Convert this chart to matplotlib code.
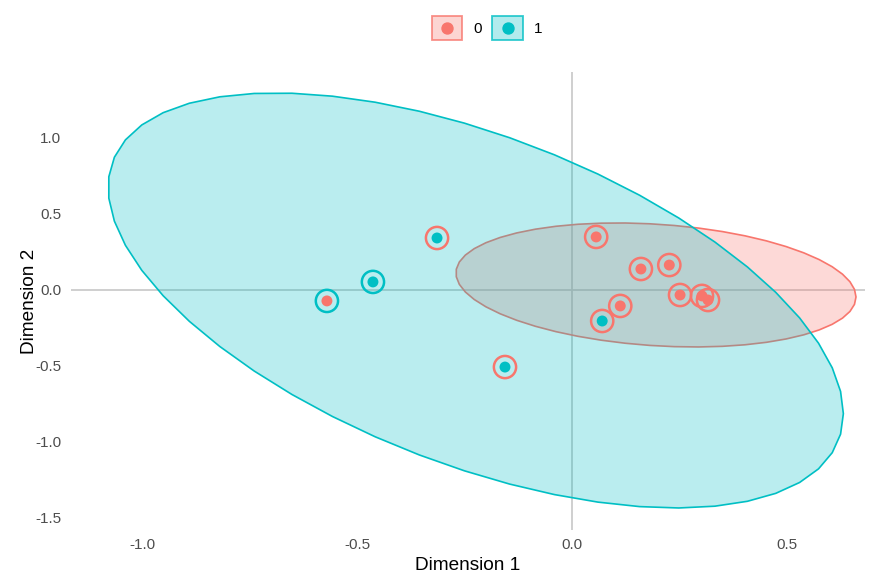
import numpy as np
import matplotlib
matplotlib.use('Agg')
import matplotlib.pyplot as plt
from matplotlib.patches import Polygon, Rectangle
from matplotlib.lines import Line2D
from matplotlib.legend_handler import HandlerBase
from matplotlib.colors import to_rgba

plt.rcParams['font.family'] = ['Liberation Sans', 'DejaVu Sans']

red = '#F8766D'
teal = '#00BFC4'
colours = {0: red, 1: teal}

# points: position, inner dot group, outer ring group
dim1 = [-0.570, -0.463, -0.314, -0.156, 0.056, 0.160, 0.226, 0.251, 0.302, 0.316, 0.112, 0.070]
dim2 = [-0.072, 0.053, 0.342, -0.507, 0.349, 0.138, 0.164, -0.033, -0.039, -0.066, -0.105, -0.204]
inner = [0, 1, 1, 1, 0, 0, 0, 0, 0, 0, 0, 1]
outer = [1, 1, 0, 0, 0, 0, 0, 0, 0, 0, 0, 0]

# ellipses: centre and shape matrix (xx, yy, xy) per group
ell_groups = [0, 1]
ell_centre = {0: (0.195, 0.033), 1: (-0.224, -0.069)}
ell_shape = {0: (0.2163, 0.1664, -0.0367), 1: (0.7305, 1.8636, -0.6365)}

xticks = [-1.0, -0.5, 0.0, 0.5]
yticks = [-1.5, -1.0, -0.5, 0.0, 0.5, 1.0]


class DotKey(HandlerBase):
    # ggplot style key: tinted square with a dot in the middle
    def create_artists(self, legend, orig_handle, xdescent, ydescent,
                       width, height, fontsize, trans):
        col = orig_handle.get_color()
        box = Rectangle((-xdescent, -ydescent), width, height,
                        facecolor=to_rgba(col, 0.3), edgecolor=to_rgba(col, 0.8),
                        lw=1.3, transform=trans)
        dot = Line2D([-xdescent + width / 2], [-ydescent + height / 2], marker='o',
                     ls='none', color=col, ms=7.9, transform=trans)
        return [box, dot]


fig = plt.figure(figsize=(8.81, 5.73), dpi=100)
ax = fig.add_axes([71/881, 43/573, 794/881, 458/573])

ax.axhline(0, color='#CCCCCC', lw=1.3, zorder=1)
ax.axvline(0, color='#CCCCCC', lw=1.3, zorder=1)

t = np.linspace(0, 2*np.pi, 52)
circle = np.column_stack([np.cos(t), np.sin(t)])
for g in ell_groups:
    sxx, syy, sxy = ell_shape[g]
    L = np.linalg.cholesky(np.array([[sxx, sxy], [sxy, syy]]))
    pts = circle @ L.T + np.array(ell_centre[g])
    ax.add_patch(Polygon(pts, closed=True, facecolor=colours[g], alpha=0.27,
                         edgecolor='none', zorder=2 + g))
    ax.add_patch(Polygon(pts, closed=True, facecolor='none',
                         edgecolor=colours[g], lw=1.2, zorder=2 + g))

ax.scatter(dim1, dim2, s=16**2, facecolors='none',
           edgecolors=[colours[o] for o in outer], linewidths=1.8, zorder=5)
ax.scatter(dim1, dim2, s=62, c=[colours[i] for i in inner], linewidths=0, zorder=6)

ax.set_xlim(-1.165, 0.681)
ax.set_ylim(-1.579, 1.434)
ax.set_xticks(xticks)
ax.set_yticks(yticks)
ax.set_xticklabels([f'{v:.1f}' for v in xticks])
ax.set_yticklabels([f'{v:.1f}' for v in yticks])
ax.tick_params(length=0, labelsize=11, labelcolor='#4D4D4D')
ax.tick_params(axis='x', pad=6)
ax.tick_params(axis='y', pad=7)
for s in ax.spines.values():
    s.set_visible(False)
ax.set_xlabel('Dimension 1', fontsize=13.7, labelpad=3)
ax.set_ylabel('Dimension 2', fontsize=13.7, labelpad=-2)

handles = [Line2D([], [], color=colours[g]) for g in ell_groups]
fig.legend(handles, ['0', '1'], loc='center', bbox_to_anchor=(487/881, 1 - 28/573),
           ncol=2, frameon=False, fontsize=11, handlelength=2.0, handleheight=2.0,
           handletextpad=0.7, columnspacing=0.7,
           handler_map={Line2D: DotKey()})

fig.savefig('out.png', dpi=100)
